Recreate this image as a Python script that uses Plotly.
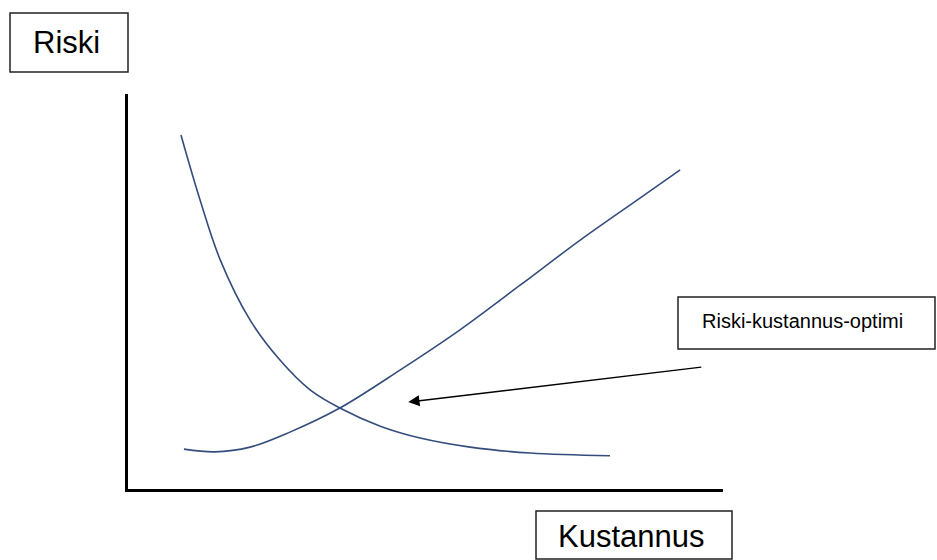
import plotly.graph_objects as go

# Data (arbitrary units: cost on x, risk on y, 0-100 scale)
risk_curve_x = [8.9, 12.1, 15.5, 20.5, 25.5, 30.6, 35.6, 42.4, 49.1, 57.5, 67.6, 81.0]
risk_curve_y = [89.6, 73.2, 58.0, 42.8, 32.7, 25.1, 20.5, 15.9, 12.9, 10.6, 9.1, 8.4]

cost_curve_x = [9.4, 14.6, 20.5, 27.2, 35.6, 45.7, 55.8, 65.9, 76.0, 86.1, 92.8]
cost_curve_y = [10.1, 9.4, 10.6, 14.4, 20.5, 30.1, 40.3, 51.6, 63.0, 73.7, 80.8]

optimum_arrow_head = (47.1, 22.0)
optimum_arrow_tail = (96.6, 30.9)

y_label = "Riski"
x_label = "Kustannus"
optimum_label = "Riski-kustannus-optimi"

W, H = 937, 560
L, R, T, B = 128, 723, 94, 489  # plot area pixel edges


def px(x):
    return (x - L) / (R - L)


def py(y):
    return (B - y) / (B - T)


curve_color = "#344d7c"

fig = go.Figure()
fig.add_trace(go.Scatter(x=risk_curve_x, y=risk_curve_y, mode="lines",
                         line=dict(color=curve_color, width=1.6, shape="spline", smoothing=1.0),
                         hoverinfo="skip", showlegend=False))
fig.add_trace(go.Scatter(x=cost_curve_x, y=cost_curve_y, mode="lines",
                         line=dict(color=curve_color, width=1.6, shape="spline", smoothing=1.0),
                         hoverinfo="skip", showlegend=False))

fam = "Liberation Sans, Arial, sans-serif"
# text, box x0, y0, x1, y1, text center x, text center y, font size
boxes = [
    (y_label, 10, 13, 128, 72, 66, 43, 31),
    (x_label, 536, 511, 732, 559, 631, 536, 31),
    (optimum_label, 678, 297, 935, 349, 802, 321, 20),
]
shapes = []
annotations = []
for text, x0, y0, x1, y1, tx, ty, fs in boxes:
    shapes.append(dict(type="rect", xref="paper", yref="paper",
                       x0=px(x0), x1=px(x1), y0=py(y1), y1=py(y0),
                       line=dict(color="#222222", width=1.5), fillcolor="white", layer="above"))
    annotations.append(dict(xref="paper", yref="paper", x=px(tx), y=py(ty),
                            text=text, showarrow=False, xanchor="center", yanchor="middle",
                            font=dict(size=fs, color="black", family=fam)))

annotations.append(dict(x=optimum_arrow_head[0], y=optimum_arrow_head[1], xref="x", yref="y",
                        ax=optimum_arrow_tail[0], ay=optimum_arrow_tail[1], axref="x", ayref="y",
                        text="", showarrow=True, arrowhead=2, arrowsize=1.5, arrowwidth=1.5,
                        arrowcolor="black"))

fig.update_layout(
    width=W, height=H, autosize=False,
    margin=dict(l=L, r=W - R, t=T, b=H - B, pad=0),
    plot_bgcolor="white", paper_bgcolor="white",
    shapes=shapes, annotations=annotations,
    xaxis=dict(range=[0, 100], showgrid=False, zeroline=False, showticklabels=False, ticks="",
               showline=True, linecolor="black", linewidth=3, fixedrange=True),
    yaxis=dict(range=[0, 100], showgrid=False, zeroline=False, showticklabels=False, ticks="",
               showline=True, linecolor="black", linewidth=3, fixedrange=True),
)

fig.write_html("out.html", config={"displayModeBar": False},
               post_script="document.body.style.margin='0';document.body.style.overflow='hidden';")
